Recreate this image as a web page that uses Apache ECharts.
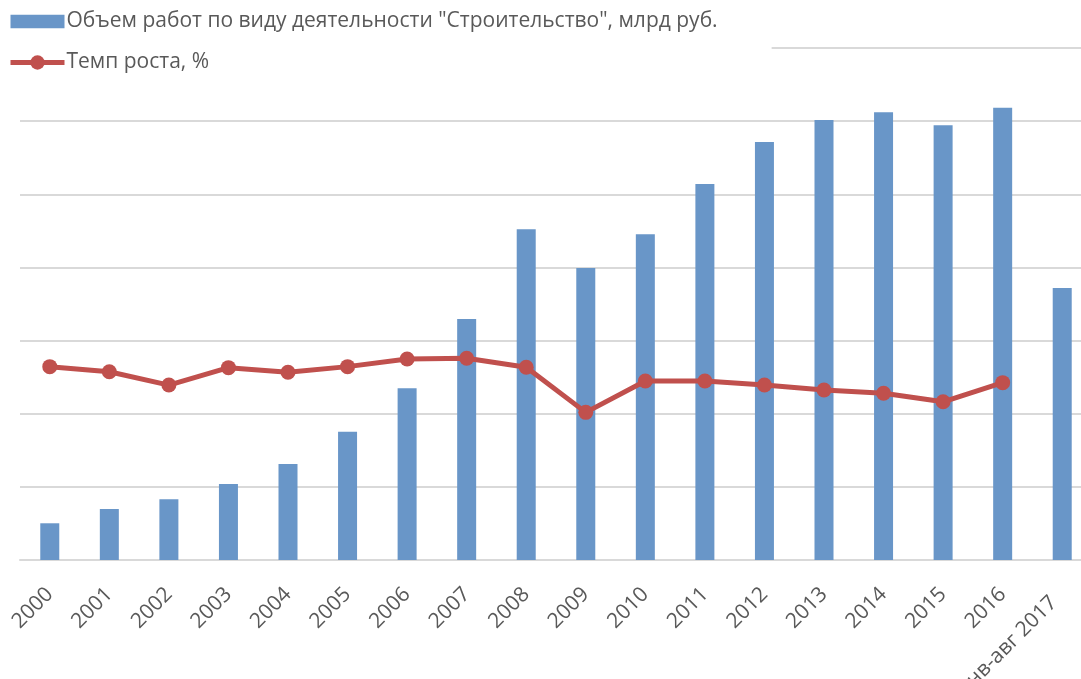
<!DOCTYPE html>
<html>
<head>
<meta charset="utf-8">
<script src="https://cdn.jsdelivr.net/npm/echarts@6/dist/echarts.min.js"></script>
<style>
  html, body { margin: 0; padding: 0; background: #fff; }
  #chart { width: 1081px; height: 679px; }
</style>
</head>
<body>
<div id="chart"></div>
<script>
// данные с картинки
var years = ['2000', '2001', '2002', '2003', '2004', '2005', '2006', '2007', '2008',
  '2009', '2010', '2011', '2012', '2013', '2014', '2015', '2016', 'янв-авг 2017']
// объем работ, млрд руб.
var volume = [502, 697, 830, 1039, 1312, 1754, 2347, 3295, 4521,
  3992, 4453, 5141, 5715, 6016, 6121, 5943, 6184, 3719]
// темп роста, %
var growth = [113.3, 110.3, 102.5, 112.7, 110.0, 113.3, 117.8, 118.2, 112.9,
  86.5, 104.9, 104.9, 102.5, 99.6, 97.7, 92.7, 103.9, null]

var volumeName = 'Объем работ по виду деятельности "Строительство", млрд руб.'
var growthName = 'Темп роста, %'
var font = 'Open Sans'

// последнюю подпись echarts сдвигает вправо, возвращаем отступом
var categories = years.map(function (y, i) {
  if (i === years.length - 1) {
    return { value: y, textStyle: { padding: [0, 12, 17, 0] } }
  }
  return y
})

var myChart = echarts.init(document.getElementById('chart'))
myChart.setOption({
  animation: false,
  legend: {
    orient: 'vertical',
    left: 0,
    top: 5,
    padding: [6, 54, 12, 8],
    backgroundColor: '#fff',
    itemWidth: 54,
    itemHeight: 18,
    itemGap: 20,
    symbolKeepAspect: true,
    textStyle: { fontFamily: font, fontSize: 21, color: '#595959', padding: [0, 0, 0, -3] },
    data: [
      // прямоугольник 52x13 как в Excel
      { name: volumeName, icon: 'path://M0,0H52V13H0Z', itemStyle: { color: '#6996c8' } },
      { name: growthName, lineStyle: { width: 5, color: '#c0504d' } }
    ]
  },
  grid: {
    top: 48,
    left: 20,
    right: -11,
    bottom: 119,
    outerBoundsMode: 'none'
  },
  xAxis: {
    type: 'category',
    data: categories,
    axisLine: { lineStyle: { color: '#d9d9d9', width: 2 } },
    axisTick: { show: false },
    axisLabel: {
      interval: 0,
      rotate: 45,
      margin: 31,
      fontFamily: font,
      fontSize: 21,
      color: '#595959'
    }
  },
  yAxis: [
    {
      type: 'value',
      min: 0,
      max: 7000,
      interval: 1000,
      axisLabel: { show: false },
      axisLine: { show: false },
      axisTick: { show: false },
      splitLine: { lineStyle: { color: '#d9d9d9', width: 2 } }
    },
    {
      type: 'value',
      min: 0,
      max: 300,
      interval: 50,
      axisLabel: { show: false },
      axisLine: { show: false },
      axisTick: { show: false },
      splitLine: { show: false }
    }
  ],
  series: [
    {
      name: volumeName,
      type: 'bar',
      data: volume,
      barWidth: 19,
      itemStyle: { color: '#6996c8' }
    },
    {
      name: growthName,
      type: 'line',
      yAxisIndex: 1,
      data: growth,
      symbol: 'circle',
      symbolSize: 15,
      lineStyle: { color: '#c0504d', width: 5 },
      itemStyle: { color: '#c0504d' }
    }
  ]
})
</script>
</body>
</html>
